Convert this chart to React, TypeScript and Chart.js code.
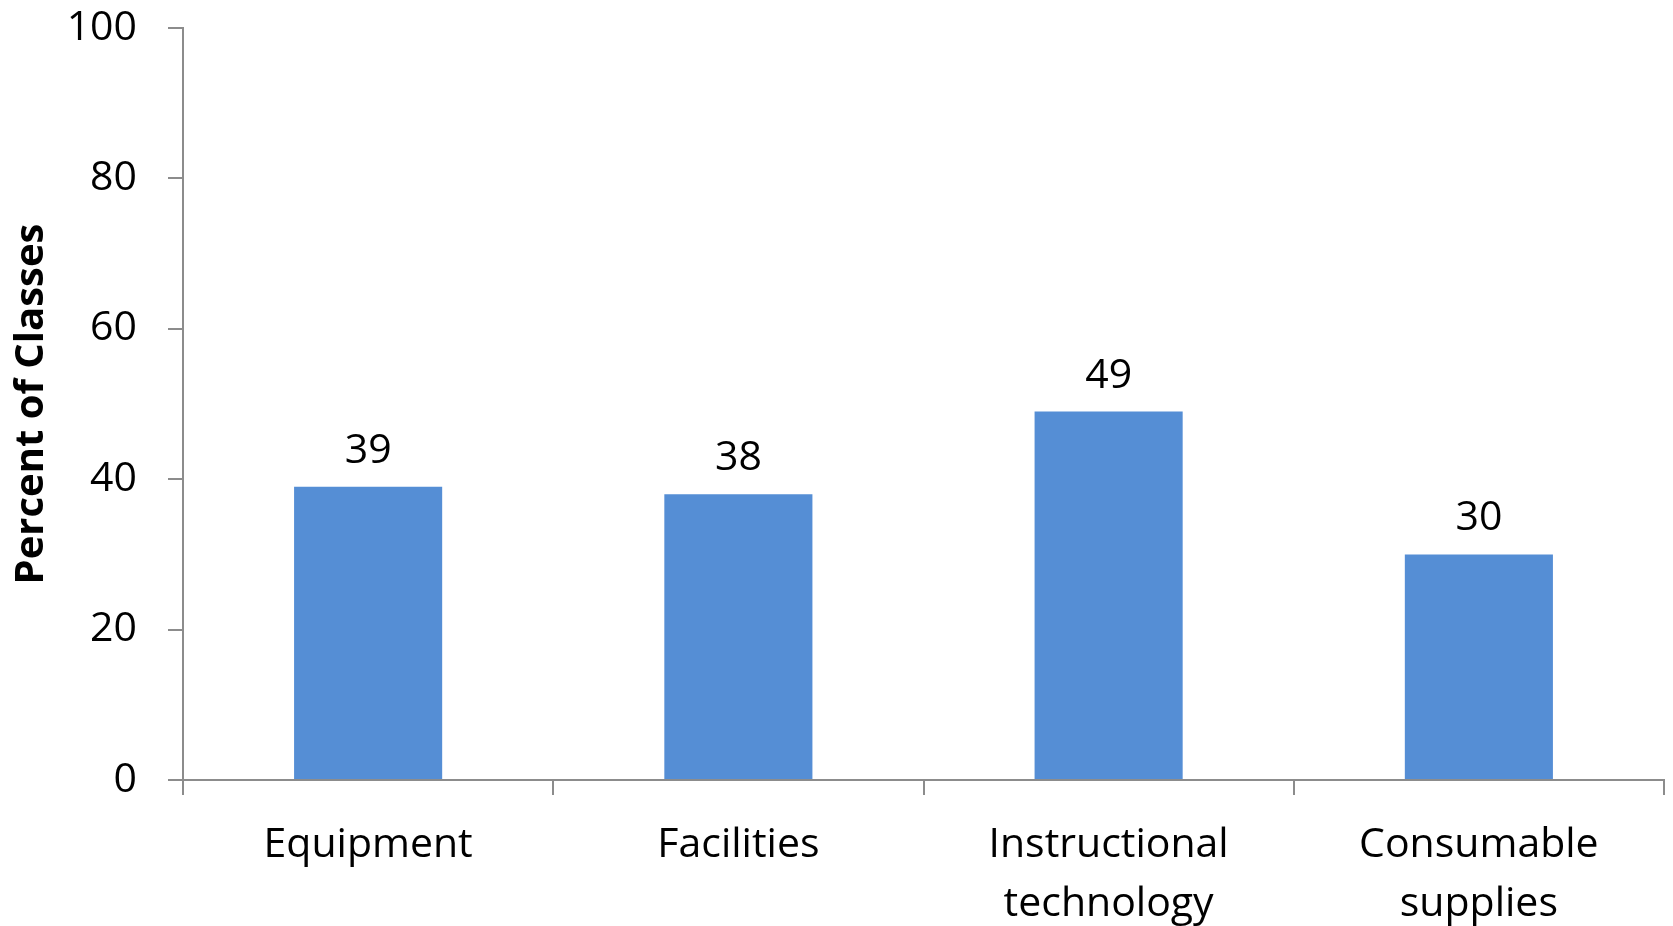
import React, { useEffect, useRef } from "react";
import { Chart, registerables } from "chart.js";

Chart.register(...registerables);

const categories: (string | string[])[] = [
  "Equipment",
  "Facilities",
  ["Instructional", "technology"],
  ["Consumable", "supplies"],
];
const values: number[] = [39, 38, 49, 30];
const yTicks: number[] = [0, 20, 40, 60, 80, 100];

const FONT = "'Open Sans', 'Noto Sans', sans-serif";
const AXIS_COLOR = "#8c8c8c";
const BAR_COLOR = "#558ed5";

const valueLabels = {
  id: "valueLabels",
  afterDatasetsDraw(chart: any) {
    const ctx = chart.ctx;
    const meta = chart.getDatasetMeta(0);
    ctx.save();
    ctx.font = `41px ${FONT}`;
    ctx.fillStyle = "#000";
    ctx.textAlign = "center";
    ctx.textBaseline = "alphabetic";
    meta.data.forEach((bar: any, i: number) => {
      ctx.fillText(String(values[i]), bar.x, bar.y - 24);
    });
    ctx.restore();
  },
};

export default function App() {
  const ref = useRef<HTMLCanvasElement | null>(null);
  useEffect(() => {
    document.body.style.margin = "0";
    if (!ref.current) return;
    const chart = new Chart(ref.current, {
      type: "bar",
      data: {
        labels: categories,
        datasets: [
          {
            data: values,
            backgroundColor: BAR_COLOR,
            borderWidth: 0,
            barPercentage: 0.8,
            categoryPercentage: 0.5,
          },
        ],
      },
      options: {
        animation: false,
        responsive: true,
        maintainAspectRatio: false,
        layout: { padding: { top: 28, right: 9, left: 0, bottom: 0 } },
        plugins: {
          legend: { display: false },
          tooltip: { enabled: false },
        },
        scales: {
          x: {
            grid: {
              display: true,
              drawOnChartArea: false,
              drawTicks: true,
              tickLength: 15,
              color: AXIS_COLOR,
              lineWidth: 2,
              offset: true,
            },
            border: { display: true, color: AXIS_COLOR, width: 2 },
            ticks: {
              color: "#000",
              font: { family: FONT, size: 41, lineHeight: 1.44 },
              padding: 21,
              maxRotation: 0,
              autoSkip: false,
            },
            afterFit: (scale: any) => {
              scale.height = 146;
              scale.paddingLeft = 0;
              scale.paddingRight = 0;
            },
          },
          y: {
            min: 0,
            max: 100,
            afterBuildTicks: (scale: any) => {
              scale.ticks = yTicks.map((v) => ({ value: v }));
            },
            grid: {
              display: true,
              drawOnChartArea: false,
              drawTicks: true,
              tickLength: 15,
              color: AXIS_COLOR,
              lineWidth: 2,
            },
            border: { display: true, color: AXIS_COLOR, width: 2 },
            ticks: {
              color: "#000",
              font: { family: FONT, size: 41 },
              padding: 31,
            },
            title: {
              display: true,
              text: "Percent of Classes",
              color: "#000",
              font: { family: FONT, size: 40, weight: "bold", lineHeight: 1.2 },
              padding: { top: 8, bottom: 0 },
            },
            afterFit: (scale: any) => {
              scale.width = 183;
              scale.paddingTop = 0;
              scale.paddingBottom = 0;
            },
          },
        },
      },
      plugins: [valueLabels],
    });
    return () => chart.destroy();
  }, []);
  return (
    <div style={{ position: "absolute", left: 0, top: 0, width: 1673, height: 926, background: "#fff" }}>
      <canvas ref={ref} />
    </div>
  );
}
